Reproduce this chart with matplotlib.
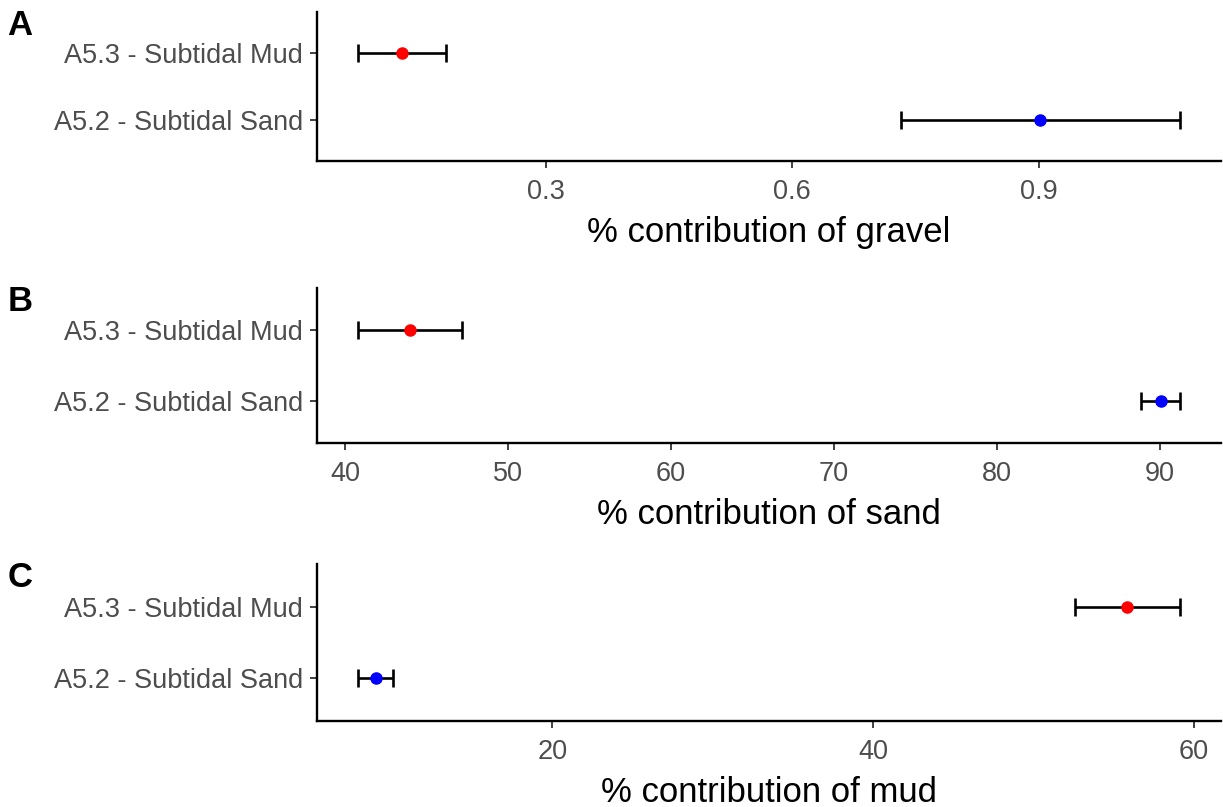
import numpy as np
import matplotlib.pyplot as plt

plt.rcParams['font.family'] = ['Liberation Sans', 'DejaVu Sans']

habitats = ['A5.2 - Subtidal Sand', 'A5.3 - Subtidal Mud']
colours = ['#0000FF', '#FF0000']

# mean, lower, upper for (sand, mud) in each panel
gravel_mean = [0.902, 0.125]
gravel_lo = [0.733, 0.071]
gravel_hi = [1.072, 0.178]

sand_mean = [90.07, 43.96]
sand_lo = [88.8, 40.8]
sand_hi = [91.2, 47.2]

mud_mean = [9.0, 55.8]
mud_lo = [7.9, 52.6]
mud_hi = [10.1, 59.1]

panels = [
    ('A', '% contribution of gravel', gravel_mean, gravel_lo, gravel_hi, [0.3, 0.6, 0.9], ['0.3', '0.6', '0.9']),
    ('B', '% contribution of sand', sand_mean, sand_lo, sand_hi, [40, 50, 60, 70, 80, 90], ['40', '50', '60', '70', '80', '90']),
    ('C', '% contribution of mud', mud_mean, mud_lo, mud_hi, [20, 40, 60], ['20', '40', '60']),
]

# axes rectangles in figure fractions
rects = [
    [0.2592, 0.8005, 0.739, 0.1846],
    [0.2592, 0.451, 0.739, 0.192],
    [0.2592, 0.1066, 0.739, 0.1945],
]
tag_y = [0.969, 0.626, 0.284]

fig = plt.figure(figsize=(12.23, 8.07), dpi=100)

for (tag, xlab, mean, lo, hi, ticks, ticklabels), rect, ty in zip(panels, rects, tag_y):
    ax = fig.add_axes(rect)
    y = np.arange(len(habitats))
    mean = np.array(mean)
    lo = np.array(lo)
    hi = np.array(hi)
    for i in range(len(habitats)):
        ax.errorbar(mean[i], y[i], xerr=[[mean[i] - lo[i]], [hi[i] - mean[i]]],
                    fmt='none', ecolor='black', elinewidth=1.9, capsize=6.5, capthick=1.9, zorder=2)
        ax.plot(mean[i], y[i], 'o', color=colours[i], markersize=8, zorder=3)
    span = hi.max() - lo.min()
    ax.set_xlim(lo.min() - 0.05 * span, hi.max() + 0.05 * span)
    ax.set_ylim(-0.6, 1.6)
    ax.set_yticks(y)
    ax.set_yticklabels(habitats)
    ax.set_xticks(ticks)
    ax.set_xticklabels(ticklabels)
    ax.tick_params(axis='both', labelsize=19.5, colors='#333333', labelcolor='#4D4D4D', length=5, width=1.3)
    ax.tick_params(axis='x', pad=8)
    ax.tick_params(axis='y', pad=5)
    ax.set_xlabel(xlab, fontsize=25, color='black', labelpad=8)
    for s in ['top', 'right']:
        ax.spines[s].set_visible(False)
    for s in ['left', 'bottom']:
        ax.spines[s].set_linewidth(1.7)
        ax.spines[s].set_color('black')
    fig.text(0.006, ty, tag, fontsize=25, fontweight='bold', va='center', ha='left')

fig.savefig('out.png', dpi=100)
